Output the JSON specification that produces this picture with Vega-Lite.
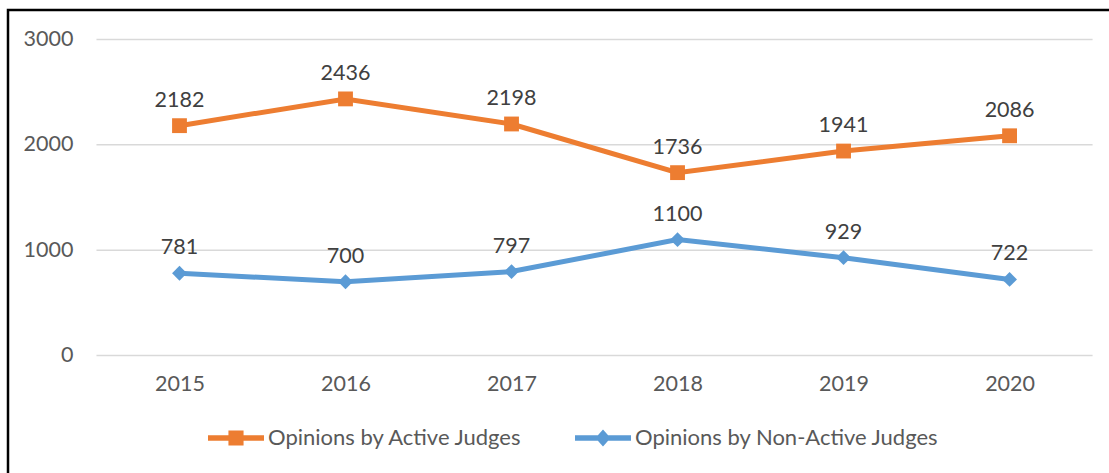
{
  "$schema": "https://vega.github.io/schema/vega-lite/v6.json",
  "autosize": {"type": "none"},
  "padding": {"left": 8, "top": 10, "right": 0, "bottom": 0},
  "width": 1103,
  "height": 465,
  "background": "white",
  "config": {
    "view": {"stroke": "#000000", "strokeWidth": 2.5, "fill": "white"},
    "font": "Lato"
  },
  "datasets": {
    "main": [
      {"year": 2015, "series": "Opinions by Active Judges", "value": 2182},
      {"year": 2016, "series": "Opinions by Active Judges", "value": 2436},
      {"year": 2017, "series": "Opinions by Active Judges", "value": 2198},
      {"year": 2018, "series": "Opinions by Active Judges", "value": 1736},
      {"year": 2019, "series": "Opinions by Active Judges", "value": 1941},
      {"year": 2020, "series": "Opinions by Active Judges", "value": 2086},
      {"year": 2015, "series": "Opinions by Non-Active Judges", "value": 781},
      {"year": 2016, "series": "Opinions by Non-Active Judges", "value": 700},
      {"year": 2017, "series": "Opinions by Non-Active Judges", "value": 797},
      {"year": 2018, "series": "Opinions by Non-Active Judges", "value": 1100},
      {"year": 2019, "series": "Opinions by Non-Active Judges", "value": 929},
      {"year": 2020, "series": "Opinions by Non-Active Judges", "value": 722}
    ],
    "grid": [{"v": 0}, {"v": 1000}, {"v": 2000}, {"v": 3000}]
  },
  "layer": [
    {
      "data": {"name": "grid"},
      "mark": {"type": "rule", "color": "#D9D9D9", "strokeWidth": 1.5},
      "encoding": {
        "y": {"field": "v", "type": "quantitative"},
        "x": {"datum": 2014.5, "type": "quantitative"},
        "x2": {"datum": 2020.5}
      }
    },
    {
      "data": {"name": "main"},
      "mark": {"type": "line", "strokeWidth": 5},
      "encoding": {
        "x": {
          "field": "year", "type": "quantitative",
          "scale": {"domain": [2013.967, 2020.611], "nice": false, "zero": false},
          "axis": {"orient": "bottom", "offset": -119.5, "values": [2015, 2016, 2017, 2018, 2019, 2020], "format": "d", "grid": false, "domain": false, "ticks": false, "labelPadding": 18, "labelFont": "Lato", "labelFontSize": 21.5, "labelColor": "#595959", "title": null}
        },
        "y": {
          "field": "value", "type": "quantitative",
          "scale": {"domain": [-1134.5, 3280.1], "nice": false, "zero": false},
          "axis": {"orient": "left", "offset": -88, "values": [0, 1000, 2000, 3000], "format": "d", "grid": false, "domain": false, "ticks": false, "labelPadding": 23, "labelFont": "Lato", "labelFontSize": 21.5, "labelColor": "#595959", "title": null}
        },
        "color": {
          "field": "series", "type": "nominal",
          "scale": {"domain": ["Opinions by Active Judges", "Opinions by Non-Active Judges"], "range": ["#ED7D31", "#5B9BD5"]},
          "legend": {
            "orient": "none", "legendX": 200, "legendY": 400, "direction": "horizontal", "title": null,
            "symbolSize": 3136, "padding": 0, "labelOffset": 4, "columnPadding": 52, "labelLimit": 0,
            "labelFont": "Lato", "labelFontSize": 22, "labelColor": "#595959",
            "encode": {
              "symbols": {
                "update": {
                  "shape": {"signal": "datum.value === 'Opinions by Active Judges' ? 'M-1,-0.1H1V0.1H-1Z M-0.27,-0.27H0.27V0.27H-0.27Z' : 'M-1,-0.1H1V0.1H-1Z M0,-0.3L0.27,0L0,0.3L-0.27,0Z'"},
                  "fill": {"signal": "datum.value === 'Opinions by Active Judges' ? '#ED7D31' : '#5B9BD5'"},
                  "stroke": {"value": "transparent"},
                  "strokeWidth": {"value": 0},
                  "opacity": {"value": 1},
                  "fillOpacity": {"value": 1}
                }
              }
            }
          }
        }
      }
    },
    {
      "data": {"name": "main"},
      "transform": [{"filter": "datum.series === 'Opinions by Active Judges'"}],
      "mark": {"type": "point", "filled": true, "opacity": 1, "size": 220, "shape": "square", "color": "#ED7D31"},
      "encoding": {
        "x": {"field": "year", "type": "quantitative"},
        "y": {"field": "value", "type": "quantitative"}
      }
    },
    {
      "data": {"name": "main"},
      "transform": [{"filter": "datum.series === 'Opinions by Non-Active Judges'"}],
      "mark": {"type": "point", "filled": true, "opacity": 1, "size": 220, "shape": "diamond", "color": "#5B9BD5"},
      "encoding": {
        "x": {"field": "year", "type": "quantitative"},
        "y": {"field": "value", "type": "quantitative"}
      }
    },
    {
      "data": {"name": "main"},
      "mark": {"type": "text", "dy": -19, "baseline": "alphabetic", "align": "center", "font": "Lato", "fontSize": 21.5, "color": "#404040"},
      "encoding": {
        "x": {"field": "year", "type": "quantitative"},
        "y": {"field": "value", "type": "quantitative"},
        "text": {"field": "value", "type": "quantitative", "format": "d"}
      }
    }
  ]
}
